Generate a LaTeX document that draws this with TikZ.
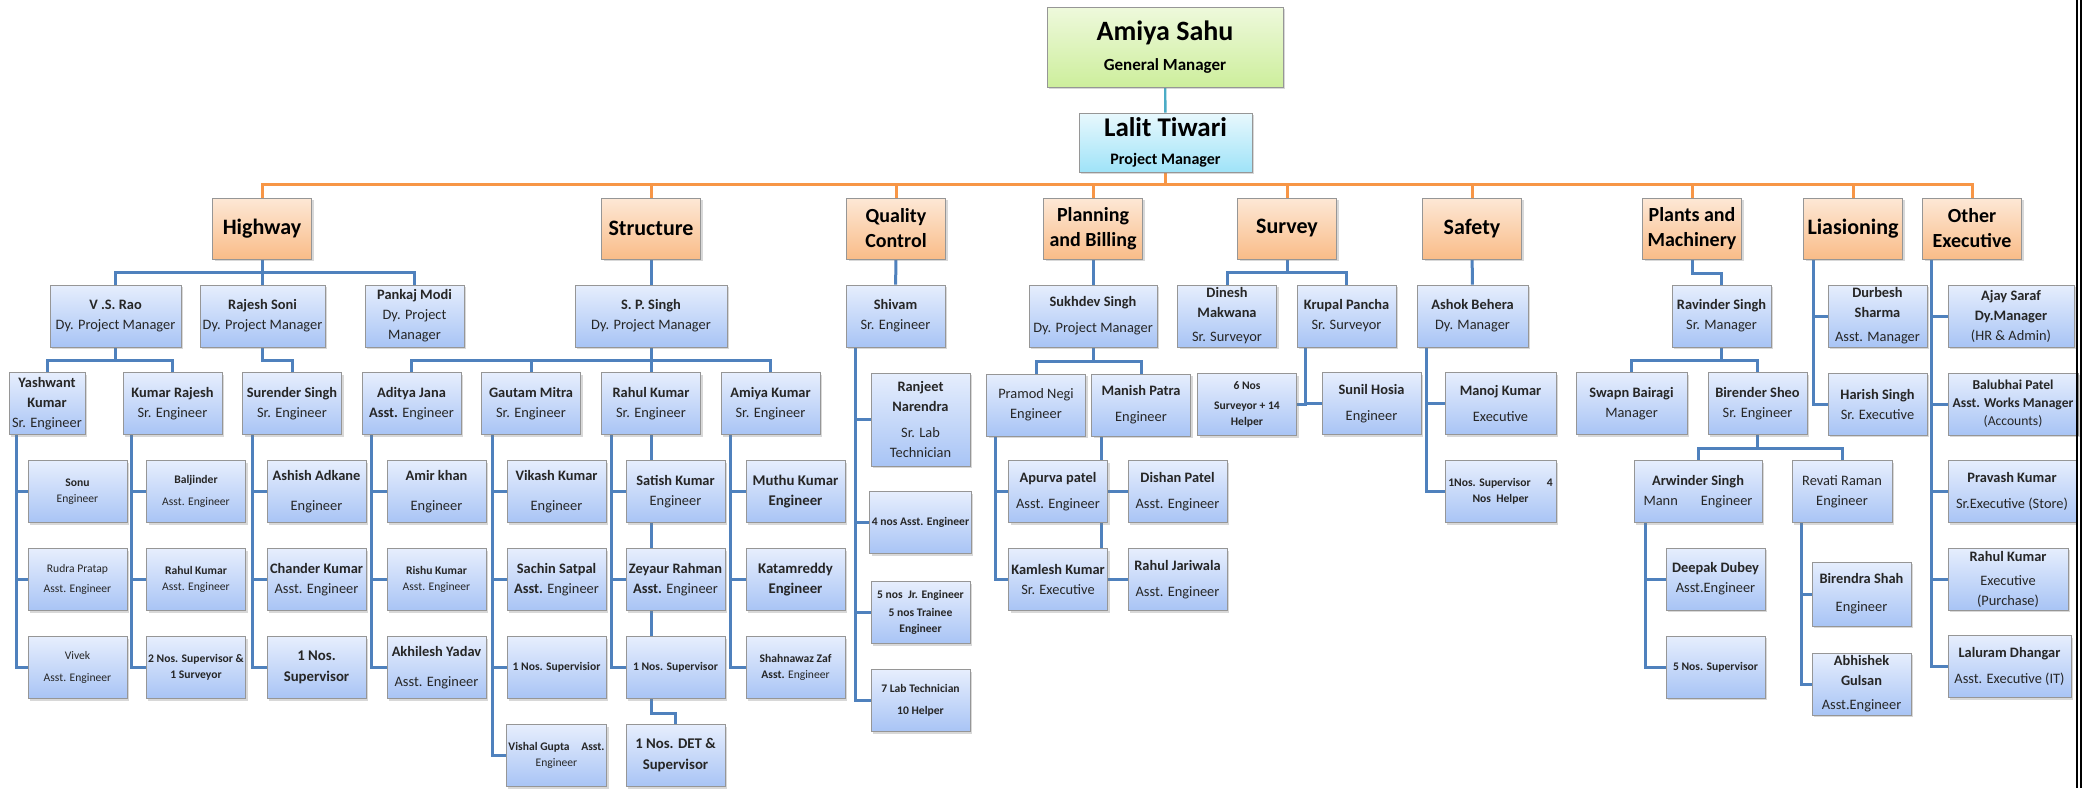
\documentclass[tikz,border=0pt]{standalone}
\usepackage{fontspec}
\setmainfont{Carlito}
\usetikzlibrary{positioning,backgrounds,shadows,calc}

\definecolor{linkblue}{HTML}{4F81BD}
\definecolor{linkorange}{HTML}{F79646}
\definecolor{linkteal}{HTML}{4BACC6}
\definecolor{boxedge}{HTML}{969696}
\definecolor{stafftop}{HTML}{E6EEFD}
\definecolor{staffbottom}{HTML}{A8C4F5}
\definecolor{depttop}{HTML}{FDE8D6}
\definecolor{deptbottom}{HTML}{F9BC88}
\definecolor{chieftop}{HTML}{EEF9DC}
\definecolor{chiefbottom}{HTML}{CDEE9C}
\definecolor{pmtop}{HTML}{E8F8FD}
\definecolor{pmbottom}{HTML}{9FE3F8}
\definecolor{textgray}{HTML}{262626}

\tikzset{
  box/.style={draw=boxedge, line width=0.5pt, align=center, inner sep=1pt,
    text=textgray, minimum height=31pt,
    drop shadow={shadow xshift=1pt, shadow yshift=-1.2pt, opacity=0.3}},
  chief/.style={box, top color=chieftop, bottom color=chiefbottom, text=black},
  manager/.style={box, top color=pmtop, bottom color=pmbottom, text=black},
  dept/.style={box, top color=depttop, bottom color=deptbottom, minimum width=49.5pt,
    minimum height=30.5pt, text=black, font=\bfseries\fontsize{11}{13}\selectfont},
  twoline/.style={font=\bfseries\fontsize{10}{12.5}\selectfont},
  staff/.style={box, top color=stafftop, bottom color=staffbottom, minimum width=49.5pt,
    font=\fontsize{7.2}{10}\selectfont},
  smalltext/.style={font=\fontsize{5.8}{7.8}\selectfont},
  link/.style={draw=linkblue, line width=1.5pt},
  deptlink/.style={draw=linkorange, line width=1.5pt},
  toplink/.style={draw=linkteal, line width=1.2pt},
}

\begin{document}
\begin{tikzpicture}[x=0.5pt, y=-0.5pt, node distance=12.5pt]
  \useasboundingbox (0,0) rectangle (2096,788);

  % top
  \node[chief, minimum width=118pt, minimum height=40pt,
    font=\bfseries\fontsize{8.5}{15}\selectfont] (amiya sahu) at (1165,47)
    {{\fontsize{14}{15}\selectfont Amiya Sahu}\\General Manager};
  \node[manager, minimum width=86.5pt, minimum height=29.5pt,
    font=\bfseries\fontsize{8}{14}\selectfont] (lalit tiwari) at (1165.5,142.5)
    {{\fontsize{13.5}{14}\selectfont Lalit Tiwari}\\Project Manager};

  % departments
  \node[dept] (highway) at (262,228.5) {Highway};
  \node[dept] (structure) at (651,228.5) {Structure};
  \node[dept, twoline] (quality) at (896,228.5) {Quality\\Control};
  \node[dept, twoline] (planning) at (1093,228.5) {Planning\\and Billing};
  \node[dept] (survey) at (1287,228.5) {Survey};
  \node[dept] (safety) at (1472,228.5) {Safety};
  \node[dept, twoline] (plants) at (1692,228.5) {Plants and\\Machinery};
  \node[dept] (liasioning) at (1853,228.5) {Liasioning};
  \node[dept, twoline] (other) at (1972,228.5) {Other\\Executive};

  % heads of departments
  \node[staff, minimum width=65.5pt] (vs rao) at (115.5,316) {\textbf{V .S. Rao}\\Dy. Project Manager};
  \node[staff, minimum width=62.5pt] (rajesh soni) at (262.5,316) {\textbf{Rajesh Soni}\\Dy. Project Manager};
  \node[staff] (pankaj modi) at (414.5,316) {\textbf{Pankaj Modi}\\Dy. Project\\Manager};
  \node[staff, minimum width=76pt] (sp singh) at (651,316) {\textbf{S. P. Singh}\\Dy. Project Manager};
  \node[staff] (shivam) at (895.5,316) {\textbf{Shivam}\\Sr. Engineer};
  \node[staff, minimum width=64pt] (sukhdev singh) at (1093,316) {\textbf{Sukhdev Singh}\\[3pt]Dy. Project Manager};
  \node[staff] (dinesh makwana) at (1227,316) {\textbf{Dinesh}\\\textbf{Makwana}\\[2pt]Sr. Surveyor};
  \node[staff] (krupal pancha) at (1346.5,316) {\textbf{Krupal Pancha}\\Sr. Surveyor};
  \node[staff, minimum width=55.5pt] (ashok behera) at (1472.5,316) {\textbf{Ashok Behera}\\Dy. Manager};
  \node[staff] (ravinder singh) at (1721.5,316) {\textbf{Ravinder Singh}\\Sr. Manager};
  \node[staff] (durbesh sharma) at (1877.5,316) {\textbf{Durbesh}\\\textbf{Sharma}\\[2pt]Asst. Manager};
  \node[staff, minimum width=63pt] (ajay saraf) at (2011,316) {\textbf{Ajay Saraf}\\\textbf{Dy.Manager}\\(HR \& Admin)};

  % third row
  \node[staff, minimum width=38pt] (yashwant kumar) at (47,403.5) {\textbf{Yashwant}\\\textbf{Kumar}\\Sr. Engineer};
  \node[staff] (kumar rajesh) at (172.5,403.5) {\textbf{Kumar Rajesh}\\Sr. Engineer};
  \node[staff] (surender singh) at (292,403.5) {\textbf{Surender Singh}\\Sr. Engineer};
  \node[staff] (aditya jana) at (411.5,403.5) {\textbf{Aditya Jana}\\\textbf{Asst.} Engineer};
  \node[staff] (gautam mitra) at (531,403.5) {\textbf{Gautam Mitra}\\Sr. Engineer};
  \node[staff] (rahul kumar) at (651,403.5) {\textbf{Rahul Kumar}\\Sr. Engineer};
  \node[staff] (amiya kumar) at (770.5,403.5) {\textbf{Amiya Kumar}\\Sr. Engineer};
  \node[staff, minimum height=46.5pt] (ranjeet narendra) at (920.5,419.5) {\textbf{Ranjeet}\\\textbf{Narendra}\\[3pt]Sr. Lab\\Technician};
  \node[staff] (pramod negi) at (1036,405) {Pramod Negi\\Engineer};
  \node[staff] (manish patra) at (1141,405) {\textbf{Manish Patra}\\[3pt]Engineer};
  \node[staff, smalltext, font=\bfseries\fontsize{5.8}{7.8}\selectfont] (survey team) at (1247,404.5) {6 Nos\\[2pt]Surveyor + 14\\Helper};
  \node[staff] (sunil hosia) at (1371.5,403.5) {\textbf{Sunil Hosia}\\[3pt]Engineer};
  \node[staff, minimum width=55.5pt] (manoj kumar) at (1500.5,403.5) {\textbf{Manoj Kumar}\\[3pt]Executive};
  \node[staff, minimum width=55.5pt] (swapn bairagi) at (1631.5,403.5) {\textbf{Swapn Bairagi}\\Manager};
  \node[staff] (birender sheo) at (1757.5,403.5) {\textbf{Birender Sheo}\\Sr. Engineer};
  \node[staff] (harish singh) at (1877.5,404) {\textbf{Harish Singh}\\Sr. Executive};
  \node[staff, minimum width=65pt, font=\fontsize{6.8}{9}\selectfont] (balubhai patel) at (2013,404) {\textbf{Balubhai Patel}\\\textbf{Asst. Works Manager}\\(Accounts)};

  % highway and structure teams
  \node[staff, smalltext] (sonu) at (77.5,491.5) {\textbf{Sonu}\\Engineer};
  \node[staff, smalltext] (rudra pratap) [below=of sonu] {Rudra Pratap\\[2pt]Asst. Engineer};
  \node[staff, smalltext] (vivek) [below=of rudra pratap] {Vivek\\[3pt]Asst. Engineer};
  \node[staff, smalltext] (baljinder) at (196,491.5) {\textbf{Baljinder}\\[3pt]Asst. Engineer};
  \node[staff, smalltext] (rahul kumar ae) [below=of baljinder] {\textbf{Rahul Kumar}\\Asst. Engineer};
  \node[staff, smalltext] (highway crew) [below=of rahul kumar ae] {\textbf{2 Nos. Supervisor \&}\\\textbf{1 Surveyor}};
  \node[staff] (ashish adkane) at (316.5,491.5) {\textbf{Ashish Adkane}\\[5pt]Engineer};
  \node[staff] (chander kumar) [below=of ashish adkane] {\textbf{Chander Kumar}\\Asst. Engineer};
  \node[staff, font=\bfseries\fontsize{7.4}{10.5}\selectfont] (surender crew) [below=of chander kumar] {1 Nos.\\Supervisor};
  \node[staff] (amir khan) at (436.5,491.5) {\textbf{Amir khan}\\[5pt]Engineer};
  \node[staff, smalltext] (rishu kumar) [below=of amir khan] {\textbf{Rishu Kumar}\\Asst. Engineer};
  \node[staff] (akhilesh yadav) [below=of rishu kumar] {\textbf{Akhilesh Yadav}\\[5pt]Asst. Engineer};
  \node[staff] (vikash kumar) at (556.5,491.5) {\textbf{Vikash Kumar}\\[5pt]Engineer};
  \node[staff] (sachin satpal) [below=of vikash kumar] {\textbf{Sachin Satpal}\\\textbf{Asst.} Engineer};
  \node[staff, smalltext] (gautam crew) [below=of sachin satpal] {\textbf{1 Nos. Supervisior}};
  \node[staff, smalltext] (vishal gupta) [below=of gautam crew] {\textbf{Vishal Gupta\quad Asst.}\\Engineer};
  \node[staff] (satish kumar) at (675.5,491.5) {\textbf{Satish Kumar}\\Engineer};
  \node[staff] (zeyaur rahman) [below=of satish kumar] {\textbf{Zeyaur Rahman}\\\textbf{Asst.} Engineer};
  \node[staff, smalltext] (rahul crew) [below=of zeyaur rahman] {\textbf{1 Nos. Supervisor}};
  \node[staff, font=\bfseries\fontsize{7.4}{10.5}\selectfont] (det crew) [below=of rahul crew] {1 Nos. DET \&\\Supervisor};
  \node[staff, font=\bfseries\fontsize{7.4}{10}\selectfont] (muthu kumar) at (795.5,491.5) {Muthu Kumar\\Engineer};
  \node[staff, font=\bfseries\fontsize{7.4}{10}\selectfont] (katamreddy) [below=of muthu kumar] {Katamreddy\\Engineer};
  \node[staff, smalltext] (shahnawaz zaf) [below=of katamreddy] {\textbf{Shahnawaz Zaf}\\\textbf{Asst.} Engineer};

  % quality control team
  \node[staff, font=\bfseries\fontsize{5.8}{7.8}\selectfont] (qc engineers) at (920.5,522.5) {4 nos Asst. Engineer};
  \node[staff, font=\bfseries\fontsize{5.8}{8}\selectfont] (qc trainees) [below=13.5pt of qc engineers] {5 nos~ Jr. Engineer\\[1pt]5 nos Trainee\\Engineer};
  \node[staff, font=\bfseries\fontsize{5.8}{8}\selectfont] (lab crew) [below=of qc trainees] {7 Lab Technician\\[3pt]10 Helper};

  % planning team
  \node[staff] (apurva patel) at (1058,491.5) {\textbf{Apurva patel}\\[3pt]Asst. Engineer};
  \node[staff] (dishan patel) at (1177.5,491.5) {\textbf{Dishan Patel}\\[3pt]Asst. Engineer};
  \node[staff] (kamlesh kumar) [below=of apurva patel] {\textbf{Kamlesh Kumar}\\Sr. Executive};
  \node[staff] (rahul jariwala) [below=of dishan patel] {\textbf{Rahul Jariwala}\\[3pt]Asst. Engineer};

  % safety team
  \node[staff, minimum width=55.5pt, font=\bfseries\fontsize{5.8}{7.8}\selectfont] (safety team) at (1500.5,491.5) {1Nos. Supervisor\hspace{1.4em}4\\Nos~ Helper};

  % plants team
  \node[staff, minimum width=64pt] (arwinder singh) at (1698,491.5) {\textbf{Arwinder Singh}\\Mann\hspace{1.6em}Engineer};
  \node[staff, minimum width=50pt] (revati raman) at (1842,491.5) {Revati Raman\\Engineer};
  \node[staff] (deepak dubey) at (1715.5,579) {\textbf{Deepak Dubey}\\Asst.Engineer};
  \node[staff, smalltext] (arwinder crew) [below=of deepak dubey] {\textbf{5 Nos. Supervisor}};
  \node[staff, minimum height=32pt] (birendra shah) at (1861.5,594) {\textbf{Birendra Shah}\\[4pt]Engineer};
  \node[staff] (abhishek gulsan) [below=13pt of birendra shah] {\textbf{Abhishek}\\\textbf{Gulsan}\\[2pt]Asst.Engineer};

  % other executives
  \node[staff, minimum width=64pt] (pravash kumar) at (2012,491.5) {\textbf{Pravash Kumar}\\[3pt]Sr.Executive (Store)};
  \node[staff, minimum width=60pt] (rahul kumar purchase) at (2008,579) {\textbf{Rahul Kumar}\\[2pt]Executive\\(Purchase)};
  \node[staff, minimum width=61.5pt] (laluram dhangar) at (2009.5,666.5) {\textbf{Laluram Dhangar}\\[3pt]Asst. Executive (IT)};

  % page edge
  \draw[line width=1pt] (2077,0) -- (2077,788);
  \draw[line width=1pt] (2080.5,0) -- (2080.5,788);

  \begin{scope}[on background layer]
    \fill[white] (0,0) rectangle (2096,788);
    \draw[toplink] (amiya sahu) -- (lalit tiwari);
    \coordinate (bus) at ($(lalit tiwari.south)+(0,12)$);
    \draw[deptlink] (lalit tiwari) -- (bus);
    \foreach \d in {highway,structure,quality,planning,survey,safety,plants,liasioning,other}
      \draw[deptlink] (bus) -| (\d.north);

    % highway
    \foreach \c in {vs rao,rajesh soni,pankaj modi}
      \draw[link] (highway.south) -- ++(0,13) -| (\c.north);
    \foreach \c in {yashwant kumar,kumar rajesh}
      \draw[link] (vs rao.south) -- ++(0,13) -| (\c.north);
    \draw[link] (rajesh soni.south) -- ++(0,13) -| (surender singh.north);
    \foreach \c in {sonu,rudra pratap,vivek}
      \draw[link] (yashwant kumar.south west) ++(8,0) |- (\c.west);
    \foreach \c in {baljinder,rahul kumar ae,highway crew}
      \draw[link] (kumar rajesh.south west) ++(9,0) |- (\c.west);
    \foreach \c in {ashish adkane,chander kumar,surender crew}
      \draw[link] (surender singh.south west) ++(10,0) |- (\c.west);

    % structure
    \draw[link] (structure) -- (sp singh);
    \foreach \c in {aditya jana,gautam mitra,rahul kumar,amiya kumar}
      \draw[link] (sp singh.south) -- ++(0,13) -| (\c.north);
    \foreach \c in {amir khan,rishu kumar,akhilesh yadav}
      \draw[link] (aditya jana.south west) ++(10,0) |- (\c.west);
    \foreach \c in {vikash kumar,sachin satpal,gautam crew,vishal gupta}
      \draw[link] (gautam mitra.south west) ++(11,0) |- (\c.west);
    \foreach \c in {satish kumar,zeyaur rahman,rahul crew}
      \draw[link] (rahul kumar.south west) ++(10,0) |- (\c.west);
    \draw[link] (rahul kumar) -- (rahul kumar |- rahul crew.north);
    \draw[link] (rahul crew.south -| rahul kumar) -- ++(0,14) -| (det crew.north);
    \foreach \c in {muthu kumar,katamreddy,shahnawaz zaf}
      \draw[link] (amiya kumar.south west) ++(10,0) |- (\c.west);

    % quality control
    \draw[link] (quality) -- (shivam);
    \foreach \c in {ranjeet narendra,qc engineers,qc trainees,lab crew}
      \draw[link] (shivam.south west) ++(10,0) |- (\c.west);

    % planning and billing
    \draw[link] (planning) -- (sukhdev singh);
    \foreach \c in {pramod negi,manish patra}
      \draw[link] (sukhdev singh.south) -- ++(0,14) -| (\c.north);
    \foreach \c in {apurva patel,kamlesh kumar}
      \draw[link] (pramod negi.south west) ++(9,0) |- (\c.west);
    \coordinate (mp) at ($(manish patra.south west)+(10,0)$);
    \draw[link] (mp) -- (mp |- kamlesh kumar.north);
    \draw[link] (apurva patel) -- (dishan patel);
    \draw[link] (kamlesh kumar) -- (rahul jariwala);

    % survey
    \foreach \c in {dinesh makwana,krupal pancha}
      \draw[link] (survey.south) -- ++(0,13) -| (\c.north);
    \draw[link] (krupal pancha.south west) ++(9,0) |- (sunil hosia.west);
    \draw[link] (krupal pancha.south west) ++(9,0) |- (survey team.east);

    % safety
    \draw[link] (safety) -- (ashok behera);
    \foreach \c in {manoj kumar,safety team}
      \draw[link] (ashok behera.south west) ++(10,0) |- (\c.west);

    % plants and machinery
    \draw[link] (plants.south) -- ++(0,14) -| (ravinder singh.north);
    \foreach \c in {swapn bairagi,birender sheo}
      \draw[link] (ravinder singh.south) -- ++(0,13) -| (\c.north);
    \foreach \c in {arwinder singh,revati raman}
      \draw[link] (birender sheo.south) -- ++(0,13) -| (\c.north);
    \foreach \c in {deepak dubey,arwinder crew}
      \draw[link] (arwinder singh.south west) ++(12,0) |- (\c.west);
    \foreach \c in {birendra shah,abhishek gulsan}
      \draw[link] (revati raman.south west) ++(10,0) |- (\c.west);

    % liasioning and other executives
    \foreach \c in {durbesh sharma,harish singh}
      \draw[link] (liasioning.south west) ++(10,0) |- (\c.west);
    \foreach \c in {ajay saraf,balubhai patel,pravash kumar,rahul kumar purchase,laluram dhangar}
      \draw[link] (other.south west) ++(9,0) |- (\c.west);
  \end{scope}
\end{tikzpicture}
\end{document}
